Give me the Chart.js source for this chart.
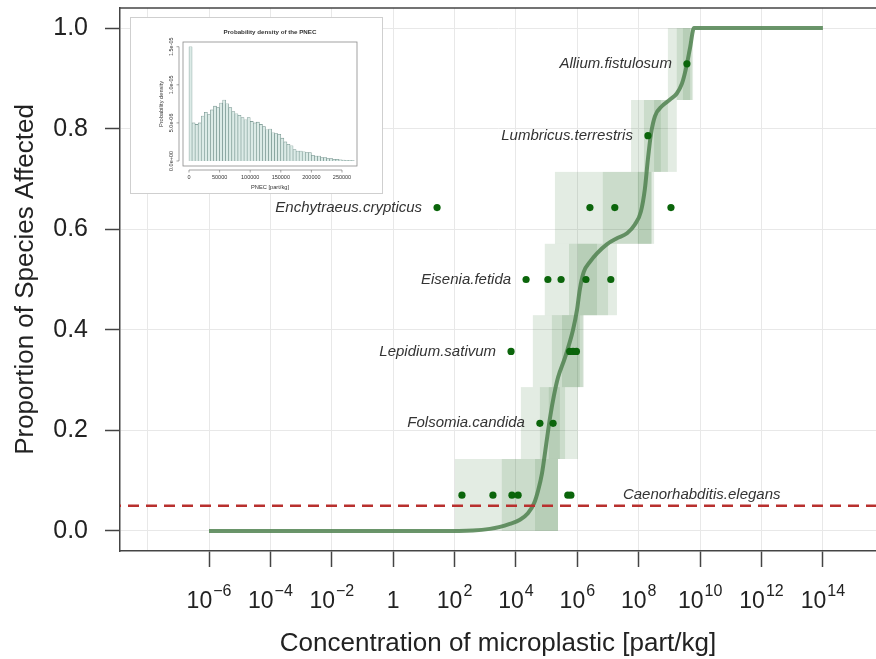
<!DOCTYPE html>
<html>
<head>
<meta charset="utf-8">
<script src="https://cdn.jsdelivr.net/npm/chart.js@4.4.1/dist/chart.umd.min.js"></script>
<style>
  html, body { margin: 0; padding: 0; background: #fff; }
  canvas { display: block; }
  #wrap { position: relative; width: 876px; height: 659px; }
  #inset { position: absolute; left: 130px; top: 17px; width: 253px; height: 177px;
           box-sizing: border-box; border: 1px solid #cfcfcf; background: #fff; }
</style>
</head>
<body>
<div id="wrap">
  <canvas id="ssd" width="876" height="659"></canvas>
  <div id="inset"><canvas id="pnec" width="251" height="175"></canvas></div>
</div>
<script>
// species, in order of the cumulative rank
const species = ['Caenorhabditis.elegans', 'Folsomia.candida', 'Lepidium.sativum', 'Eisenia.fetida',
                 'Enchytraeus.crypticus', 'Lumbricus.terrestris', 'Allium.fistulosum'];
const speciesRank = [0.071, 0.214, 0.357, 0.5, 0.643, 0.786, 0.929];

// log10 of the effect concentrations (part/kg) per species
const elegansLog = [2.24, 3.25, 3.87, 4.07, 5.69, 5.79];
const folsomiaLog = [4.78, 5.21];
const lepidiumLog = [3.84, 5.75, 5.86, 5.97];
const eiseniaLog = [4.33, 5.04, 5.47, 6.28, 7.09];
const enchytraeusLog = [1.43, 6.41, 7.22, 9.05];
const lumbricusLog = [8.30];
const alliumLog = [9.57];
const speciesLogs = [elegansLog, folsomiaLog, lepidiumLog, eiseniaLog, enchytraeusLog, lumbricusLog, alliumLog];

// fitted SSD curve (log10 concentration, proportion)
const curveExp = [-6, 1.5, 2.6, 3.15, 3.48, 3.8, 4.13, 4.39, 4.59, 4.72, 4.85, 4.98, 5.11, 5.24, 5.37,
                  5.6, 5.86, 5.99, 6.08, 6.21, 6.41, 6.64, 6.96, 7.29, 7.62, 7.88, 8.07, 8.2, 8.3, 8.4,
                  8.53, 8.76, 9.02, 9.24, 9.41, 9.54, 9.67, 9.8, 14];
const curveP = [0, 0, 0.001, 0.004, 0.008, 0.014, 0.022, 0.035, 0.055, 0.08, 0.115, 0.17, 0.225, 0.27, 0.305,
                0.345, 0.4, 0.44, 0.48, 0.515, 0.535, 0.552, 0.57, 0.582, 0.592, 0.61, 0.635, 0.68, 0.74, 0.79,
                0.825, 0.845, 0.858, 0.87, 0.89, 0.92, 0.96, 1.0, 1.0];

// uncertainty bands per step: log10 [low, high]
const bandEdges = [0, 0.143, 0.286, 0.429, 0.571, 0.714, 0.857, 1.0];
const bandOuter = [[2.01, 5.37], [4.16, 6.02], [4.55, 6.21], [4.94, 7.29], [5.27, 8.50], [7.75, 9.24], [8.95, 9.77]];
const bandMiddle = [[3.54, 5.37], [4.78, 5.60], [5.17, 6.18], [5.73, 7.00], [6.83, 8.43], [8.17, 8.95], [9.24, 9.73]];
const bandInner = [[4.62, 5.37], [5.07, 5.43], [5.50, 6.08], [6.02, 6.64], [7.97, 8.40], [8.50, 8.72], [9.44, 9.67]];

const hazardLevel = 0.05;
const tickExps = [-6, -4, -2, 0, 2, 4, 6, 8, 10, 12, 14];
const gridExps = [-8, -6, -4, -2, 0, 2, 4, 6, 8, 10, 12, 14];
const yTicks = [0, 0.2, 0.4, 0.6, 0.8, 1.0];

// inset histogram of the PNEC (density x 1e-6), bins of 5000 part/kg from 0
const pnecBinWidth = 5000;
const pnecDensity = [15.0, 5.0, 4.8, 5.0, 5.9, 6.4, 6.1, 6.7, 7.2, 7.0, 7.6, 8.0, 7.5, 7.0, 6.5, 6.2, 6.0, 5.7,
                     5.4, 5.7, 5.2, 5.0, 5.1, 4.8, 4.5, 4.1, 4.2, 3.7, 3.6, 3.5, 3.0, 2.5, 2.2, 2.0, 1.5, 1.3,
                     1.3, 1.2, 1.1, 1.1, 0.75, 0.65, 0.65, 0.45, 0.45, 0.3, 0.3, 0.22, 0.22, 0.15, 0.12, 0.1,
                     0.08, 0.05];
const pnecXTicks = [0, 50000, 100000, 150000, 200000, 250000];
const pnecYTicks = [0, 5e-6, 1e-5, 1.5e-5];

const FONT = '"Liberation Sans", Arial, Helvetica, sans-serif';
const pow10 = e => Math.pow(10, e);

const dots = [];
speciesLogs.forEach((arr, i) => arr.forEach(e => dots.push({ x: pow10(e), y: speciesRank[i] })));
const curvePts = curveExp.map((e, i) => ({ x: pow10(e), y: curveP[i] }));

const noPad = s => { s.paddingTop = 0; s.paddingBottom = 0; s.paddingLeft = 0; s.paddingRight = 0; };

const bandsPlugin = {
  id: 'bands',
  beforeDatasetsDraw(chart) {
    const { ctx, scales: { x, y } } = chart;
    ctx.save();
    ctx.fillStyle = 'rgba(60,120,60,0.14)';
    [bandOuter, bandMiddle, bandInner].forEach(level => {
      level.forEach((b, i) => {
        const x0 = x.getPixelForValue(pow10(b[0]));
        const x1 = x.getPixelForValue(pow10(b[1]));
        const y0 = y.getPixelForValue(bandEdges[i]);
        const y1 = y.getPixelForValue(bandEdges[i + 1]);
        ctx.fillRect(x0, y1, x1 - x0, y0 - y1);
      });
    });
    ctx.restore();
  }
};

const overlayPlugin = {
  id: 'overlay',
  afterDatasetsDraw(chart) {
    const { ctx, chartArea, scales: { x, y } } = chart;
    ctx.save();
    // hazard level line
    const hy = y.getPixelForValue(hazardLevel);
    ctx.strokeStyle = '#b8302e';
    ctx.lineWidth = 2.5;
    ctx.setLineDash([11, 7]);
    ctx.lineDashOffset = -8;
    ctx.beginPath();
    ctx.moveTo(chartArea.left, hy);
    ctx.lineTo(chartArea.right, hy);
    ctx.stroke();
    ctx.setLineDash([]);

    // species names
    ctx.font = 'italic 15px ' + FONT;
    ctx.fillStyle = '#333';
    ctx.textBaseline = 'middle';
    species.forEach((name, i) => {
      const xs = speciesLogs[i];
      const py = y.getPixelForValue(speciesRank[i]);
      if (i === 0) {
        ctx.textAlign = 'left';
        ctx.fillText(name, x.getPixelForValue(pow10(Math.max(...xs))) + 52, py);
      } else {
        ctx.textAlign = 'right';
        ctx.fillText(name, x.getPixelForValue(pow10(Math.min(...xs))) - 15, py);
      }
    });
    ctx.restore();
  },
  afterDraw(chart) {
    const { ctx, chartArea, scales: { x } } = chart;
    ctx.save();
    // top of the box
    ctx.strokeStyle = '#444';
    ctx.lineWidth = 1.5;
    ctx.beginPath();
    ctx.moveTo(chartArea.left, chartArea.top);
    ctx.lineTo(chartArea.right, chartArea.top);
    ctx.stroke();

    // power-of-ten tick labels
    ctx.fillStyle = '#222';
    ctx.textAlign = 'left';
    ctx.textBaseline = 'alphabetic';
    const baseY = chartArea.bottom + 57;
    tickExps.forEach(e => {
      const px = x.getPixelForValue(pow10(e));
      const base = e === 0 ? '1' : '10';
      const sup = e === 0 ? '' : (e < 0 ? '\u2212' : '') + Math.abs(e);
      ctx.font = '23px ' + FONT;
      const w1 = ctx.measureText(base).width;
      ctx.font = '16px ' + FONT;
      const w2 = sup ? ctx.measureText(sup).width + 1 : 0;
      const x0 = px - (w1 + w2) / 2;
      ctx.font = '23px ' + FONT;
      ctx.fillText(base, x0, baseY);
      if (sup) {
        ctx.font = '16px ' + FONT;
        ctx.fillText(sup, x0 + w1 + 1, baseY - 12);
      }
    });
    ctx.restore();
  }
};

new Chart(document.getElementById('ssd'), {
  type: 'scatter',
  data: {
    datasets: [
      {
        label: 'species',
        data: dots,
        pointRadius: 3.6,
        pointBackgroundColor: '#0b650b',
        pointBorderWidth: 0,
        showLine: false
      },
      {
        label: 'SSD',
        type: 'line',
        data: curvePts,
        borderColor: 'rgba(80,130,80,0.85)',
        borderWidth: 4,
        pointRadius: 0,
        cubicInterpolationMode: 'monotone',
        fill: false
      }
    ]
  },
  options: {
    responsive: false,
    animation: false,
    events: [],
    layout: { autoPadding: false, padding: { top: 8, right: 0, bottom: 0, left: 0 } },
    plugins: { legend: { display: false }, tooltip: { enabled: false } },
    scales: {
      x: {
        type: 'logarithmic',
        min: pow10(-8.9),
        max: pow10(15.73),
        afterBuildTicks: s => { s.ticks = gridExps.map(e => ({ value: pow10(e) })); },
        afterFit: s => { s.height = 108; noPad(s); },
        ticks: { display: false },
        grid: {
          color: '#e8e8e8',
          lineWidth: 1,
          tickLength: 16,
          tickWidth: 1.5,
          tickColor: c => (c.tick && c.tick.value < 1e-7 ? 'rgba(0,0,0,0)' : '#444')
        },
        border: { display: true, color: '#444', width: 1.5 },
        title: {
          display: true,
          text: 'Concentration of microplastic [part/kg]',
          color: '#222',
          font: { family: FONT, size: 26 },
          padding: { top: 0, bottom: 0 }
        }
      },
      y: {
        min: -0.04,
        max: 1.04,
        afterBuildTicks: s => { s.ticks = yTicks.map(v => ({ value: v })); },
        afterFit: s => { s.width = 120; noPad(s); },
        ticks: {
          color: '#222',
          font: { family: FONT, size: 25 },
          padding: 17,
          callback: v => Number(v).toFixed(1)
        },
        grid: { color: '#e8e8e8', lineWidth: 1, tickLength: 15, tickWidth: 1.5, tickColor: '#444' },
        border: { display: true, color: '#444', width: 1.5 },
        title: {
          display: true,
          text: 'Proportion of Species Affected',
          color: '#222',
          font: { family: FONT, size: 26 },
          padding: { top: 10, bottom: 0 }
        }
      }
    }
  },
  plugins: [bandsPlugin, overlayPlugin]
});

// ---- inset: probability density of the PNEC ----
const insetPlugin = {
  id: 'insetAxes',
  afterDraw(chart) {
    const { ctx, chartArea: a, scales: { x, y } } = chart;
    ctx.save();
    ctx.strokeStyle = '#8a8a8a';
    ctx.lineWidth = 0.8;
    ctx.strokeRect(a.left, a.top, a.right - a.left, a.bottom - a.top);

    ctx.fillStyle = '#333';
    ctx.font = 'bold 6.2px ' + FONT;
    ctx.textAlign = 'center';
    ctx.textBaseline = 'middle';
    ctx.fillText('Probability density of the PNEC', (a.left + a.right) / 2, 14);

    // x axis
    ctx.strokeStyle = '#666';
    ctx.lineWidth = 0.6;
    const ax = a.bottom + 4;
    ctx.beginPath();
    ctx.moveTo(x.getPixelForValue(pnecXTicks[0]), ax);
    ctx.lineTo(x.getPixelForValue(pnecXTicks[pnecXTicks.length - 1]), ax);
    pnecXTicks.forEach(v => {
      const px = x.getPixelForValue(v);
      ctx.moveTo(px, ax);
      ctx.lineTo(px, ax + 2.5);
    });
    ctx.stroke();
    ctx.font = '5.5px ' + FONT;
    pnecXTicks.forEach(v => ctx.fillText(String(v), x.getPixelForValue(v), a.bottom + 11));
    ctx.font = '5.7px ' + FONT;
    ctx.fillText('PNEC [part/kg]', (a.left + a.right) / 2, a.bottom + 21);

    // y axis
    const ay = a.left - 4;
    ctx.beginPath();
    ctx.moveTo(ay, y.getPixelForValue(pnecYTicks[0]));
    ctx.lineTo(ay, y.getPixelForValue(pnecYTicks[pnecYTicks.length - 1]));
    pnecYTicks.forEach(v => {
      const py = y.getPixelForValue(v);
      ctx.moveTo(ay, py);
      ctx.lineTo(ay - 2.5, py);
    });
    ctx.stroke();
    ctx.font = '5.5px ' + FONT;
    pnecYTicks.forEach(v => {
      ctx.save();
      ctx.translate(a.left - 12, y.getPixelForValue(v));
      ctx.rotate(-Math.PI / 2);
      ctx.fillText(v.toExponential(1).replace(/e([+-])(\d)$/, 'e$10$2'), 0, 0);
      ctx.restore();
    });
    ctx.save();
    ctx.font = '5.7px ' + FONT;
    ctx.translate(a.left - 22, (a.top + a.bottom) / 2);
    ctx.rotate(-Math.PI / 2);
    ctx.fillText('Probability density', 0, 0);
    ctx.restore();
    ctx.restore();
  }
};

new Chart(document.getElementById('pnec'), {
  type: 'bar',
  data: {
    datasets: [{
      data: pnecDensity.map((d, i) => ({ x: pnecBinWidth * (i + 0.5), y: d * 1e-6 })),
      backgroundColor: '#dcebe7',
      borderColor: '#6f8f89',
      borderWidth: 0.6,
      barPercentage: 1,
      categoryPercentage: 1
    }]
  },
  options: {
    responsive: false,
    animation: false,
    events: [],
    layout: { autoPadding: false, padding: { left: 52, top: 24, right: 25, bottom: 27 } },
    plugins: { legend: { display: false }, tooltip: { enabled: false } },
    scales: {
      x: { type: 'linear', display: false, offset: false, min: -9800, max: 274500 },
      y: { display: false, min: -6.6e-7, max: 1.562e-5 }
    }
  },
  plugins: [insetPlugin]
});
</script>
</body>
</html>
